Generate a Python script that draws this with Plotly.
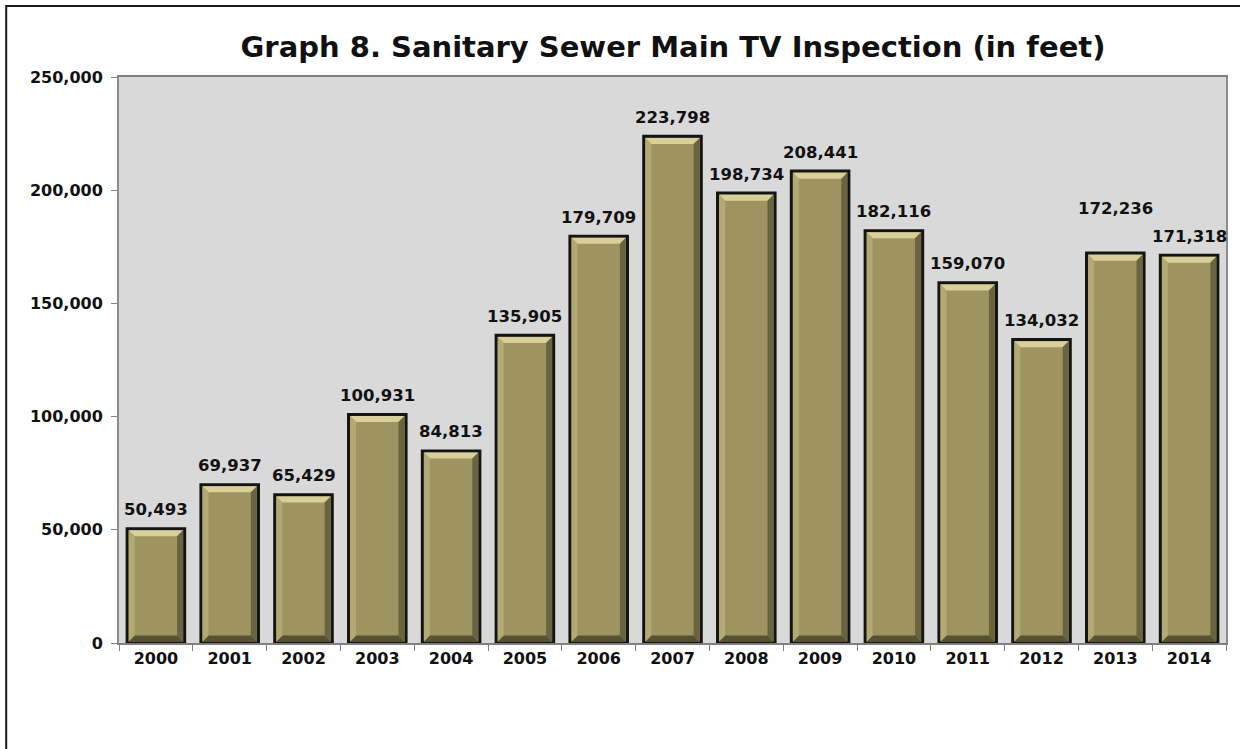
import plotly.graph_objects as go

# Annual footage of sanitary sewer main inspected by TV camera
years = ["2000", "2001", "2002", "2003", "2004", "2005", "2006", "2007",
         "2008", "2009", "2010", "2011", "2012", "2013", "2014"]
feet = [50493, 69937, 65429, 100931, 84813, 135905, 179709, 223798,
        198734, 208441, 182116, 159070, 134032, 172236, 171318]
y_ticks = [0, 50000, 100000, 150000, 200000, 250000]

W, H = 1240, 749
M_L, M_R, M_T, M_B = 119, 12, 77, 106
PLOT_W = W - M_L - M_R
PLOT_H = H - M_T - M_B
Y_MAX = 250000
BAR_W = 0.78

px_x = len(years) / PLOT_W          # one pixel in category units
px_y = Y_MAX / PLOT_H               # one pixel in feet

FONT = "DejaVu Sans"
FACE = "#9d9461"

x_idx = list(range(len(years)))

fig = go.Figure()
fig.add_trace(go.Bar(
    x=x_idx, y=feet, width=BAR_W,
    marker=dict(color=FACE, line=dict(color="#141414", width=3)),
    hoverinfo="skip",
))

# Bevelled faces drawn inside each bar outline
shapes = []
inset_x, inset_y = 1.6 * px_x, 1.6 * px_y
dx, dy = 6 * px_x, 6 * px_y
for i, v in zip(x_idx, feet):
    xl = i - BAR_W / 2 + inset_x
    xr = i + BAR_W / 2 - inset_x
    yb = inset_y
    yt = v - inset_y
    faces = [
        ([(xl, yt), (xr, yt), (xr - dx, yt - dy), (xl + dx, yt - dy)], "#d9cf98"),
        ([(xl, yb), (xr, yb), (xr - dx, yb + dy), (xl + dx, yb + dy)], "#575133"),
        ([(xl, yb), (xl + dx, yb + dy), (xl + dx, yt - dy), (xl, yt)], "#b3a972"),
        ([(xr, yb), (xr - dx, yb + dy), (xr - dx, yt - dy), (xr, yt)], "#6a633f"),
    ]
    for pts, col in faces:
        path = "M " + " L ".join(f"{a},{b}" for a, b in pts) + " Z"
        shapes.append(dict(type="path", xref="x", yref="y", path=path,
                           fillcolor=col, line=dict(width=0), layer="above"))

# Outer frame around the whole chart
shapes.append(dict(
    type="rect", xref="paper", yref="paper",
    x0=(6 - M_L) / PLOT_W, x1=(W + 10 - M_L) / PLOT_W,
    y0=-(H + 10 - M_T - PLOT_H) / PLOT_H, y1=(H - 6 - M_B) / PLOT_H,
    line=dict(color="#1a1a1a", width=2), fillcolor="rgba(0,0,0,0)", layer="below",
))

# Value labels above the bars (2013 label sits a little higher)
annotations = []
for i, (yr, v) in enumerate(zip(years, feet)):
    shift = 45 if yr == "2013" else 19
    annotations.append(dict(
        x=i, y=v, xref="x", yref="y", text=f"<b>{v:,}</b>",
        showarrow=False, yanchor="middle", yshift=shift,
        font=dict(family=FONT, size=16.5, color="#111111"),
    ))

fig.update_layout(
    width=W, height=H,
    margin=dict(l=M_L, r=M_R, t=M_T, b=M_B),
    paper_bgcolor="white",
    plot_bgcolor="#d9d9d9",
    showlegend=False,
    title=dict(
        text="<b>Graph 8. Sanitary Sewer Main TV Inspection (in feet)</b>",
        x=673 / W, xanchor="center", y=1 - 47 / H, yanchor="middle",
        font=dict(family=FONT, size=29, color="#111111"),
    ),
    shapes=shapes,
    annotations=annotations,
)

fig.update_xaxes(
    range=[-0.5, len(years) - 0.5],
    tickvals=x_idx, ticktext=[f"<b>{y}</b>" for y in years],
    ticks="outside", ticklen=0, tickcolor="rgba(0,0,0,0)",
    minor=dict(tick0=-0.5, dtick=1, ticks="outside", ticklen=6,
               tickcolor="#808080", tickwidth=1, showgrid=False),
    tickfont=dict(family=FONT, size=16, color="#111111"),
    showline=True, linecolor="#7f7f7f", linewidth=2, mirror=True,
    showgrid=False, zeroline=False, fixedrange=True,
)
fig.update_yaxes(
    range=[0, Y_MAX],
    tickvals=y_ticks, ticktext=[f"<b>{t:,}</b>" for t in y_ticks],
    ticks="outside", ticklen=6, tickcolor="#808080",
    ticklabelstandoff=5,
    tickfont=dict(family=FONT, size=16, color="#111111"),
    showline=True, linecolor="#8c8c8c", linewidth=2, mirror=True,
    showgrid=False, zeroline=False, fixedrange=True,
)

fig.write_html("out.html")
